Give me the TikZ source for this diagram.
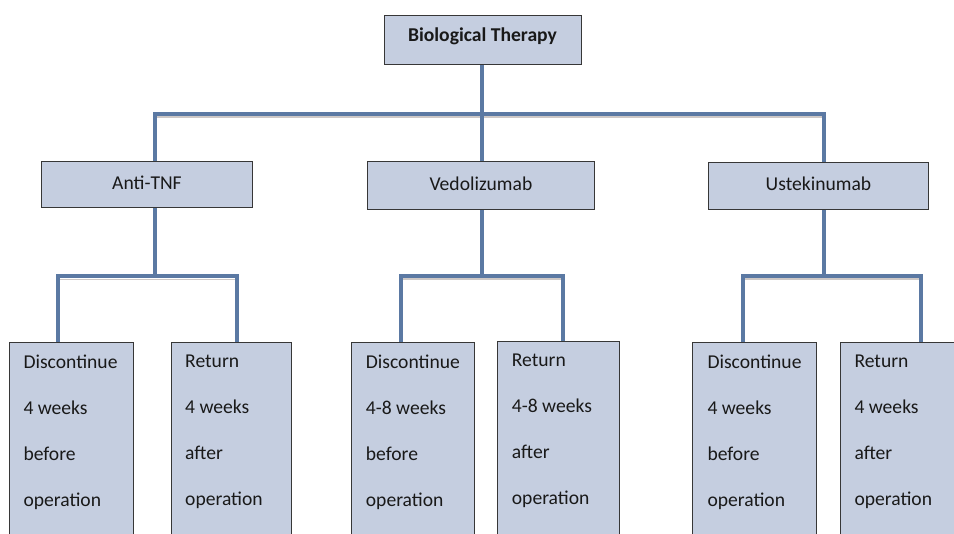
\documentclass[tikz,border=0pt]{standalone}
\usepackage{fontspec}
\setmainfont{Carlito}
\definecolor{linkblue}{RGB}{91,121,163}
\definecolor{boxfill}{RGB}{197,206,224}
\definecolor{boxedge}{RGB}{55,55,55}
\definecolor{inkgray}{RGB}{25,25,25}
\definecolor{shadegray}{RGB}{205,200,198}
\begin{document}
\begin{tikzpicture}[x=1pt,y=-1pt,
  box/.style={draw=boxedge, line width=0.9pt, fill=boxfill, inner sep=0pt, anchor=north west,
              text=inkgray, font=\fontsize{19.6}{24}\selectfont, text height=14pt, text depth=4pt},
  boxlines/.style={anchor=north west, inner sep=0pt, align=left, text=inkgray,
              font=\fontsize{19.6}{46}\selectfont},
  conn/.style={draw=linkblue, line width=4pt},
  shadowline/.style={draw=shadegray, line width=1.6pt}]
\path[use as bounding box] (0,0) rectangle (954,534);
\clip (0,0) rectangle (954,534);

% top level
\node[box, minimum width=197pt, minimum height=49pt, font=\fontsize{19.6}{24}\selectfont\bfseries, text depth=10pt] (top) at (383.5,15) {Biological Therapy};

% second level
\node[box, minimum width=211pt, minimum height=46.5pt] (anti) at (41,161) {Anti-TNF};
\node[box, minimum width=227pt, minimum height=48pt] (ved) at (367,161) {Vedolizumab};
\node[box, minimum width=220pt, minimum height=47pt] (ust) at (708,162) {Ustekinumab};

% third level boxes
\node[box, minimum width=124pt, minimum height=210pt] (adD) at (9,342) {};
\node[box, minimum width=120pt, minimum height=210pt] (adR) at (171,342) {};
\node[box, minimum width=123pt, minimum height=210pt] (vdD) at (351,342) {};
\node[box, minimum width=122pt, minimum height=210pt] (vdR) at (497,341) {};
\node[box, minimum width=124pt, minimum height=210pt] (udD) at (692,342) {};
\node[box, minimum width=130pt, minimum height=210pt] (udR) at (840,342) {};

% third level texts
\node[boxlines] (adDt) at (23.3,354.5) {Discontinue\\4 weeks\\before\\operation};
\node[boxlines] (adRt) at (185,354.5) {Return\\4 weeks\\after\\operation};
\node[boxlines] (vdDt) at (365.7,354.5) {Discontinue\\4-8 weeks\\before\\operation};
\node[boxlines] (vdRt) at (511.7,353.5) {Return\\4-8 weeks\\after\\operation};
\node[boxlines] (udDt) at (707.3,354.5) {Discontinue\\4 weeks\\before\\operation};
\node[boxlines] (udRt) at (854.3,354.5) {Return\\4 weeks\\after\\operation};

% bus coordinates
\coordinate (busT) at (481.5,114);
\coordinate (xa) at (155,0);
\coordinate (xv) at (481.5,0);
\coordinate (xu) at (823.5,0);
\coordinate (cA0) at (155,276.5);
\coordinate (cA1) at (58,276.5);
\coordinate (cA2) at (237,276.5);
\coordinate (cV0) at (481.5,276);
\coordinate (cV1) at (401,276);
\coordinate (cV2) at (563,276);
\coordinate (cU0) at (823.5,276);
\coordinate (cU1) at (742.5,276);
\coordinate (cU2) at (921,276);

% faint shadows under horizontal segments
\draw[shadowline] ([yshift=-3pt]xa |- busT) -- ([yshift=-3pt]xu |- busT);
\draw[shadowline] ([yshift=-3pt]cA1) -- ([yshift=-3pt]cA2);
\draw[shadowline] ([yshift=-3pt]cV1) -- ([yshift=-3pt]cV2);
\draw[shadowline] ([yshift=-3pt]cU1) -- ([yshift=-3pt]cU2);

% connectors: level 1 -> 2
\draw[conn] (top.south) -- (top.south |- busT);
\draw[conn] (anti.north -| xa) -- (xa |- busT) -- (xu |- busT) -- (ust.north -| xu);
\draw[conn] (xv |- busT) -- (ved.north -| xv);

% connectors: level 2 -> 3
\draw[conn] (anti.south -| xa) -- (cA0);
\draw[conn] (adD.north -| cA1) -- (cA1) -- (cA2) -- (adR.north -| cA2);
\draw[conn] (ved.south -| xv) -- (cV0);
\draw[conn] (vdD.north -| cV1) -- (cV1) -- (cV2) -- (vdR.north -| cV2);
\draw[conn] (ust.south -| xu) -- (cU0);
\draw[conn] (udD.north -| cU1) -- (cU1) -- (cU2) -- (udR.north -| cU2);
\end{tikzpicture}
\end{document}
